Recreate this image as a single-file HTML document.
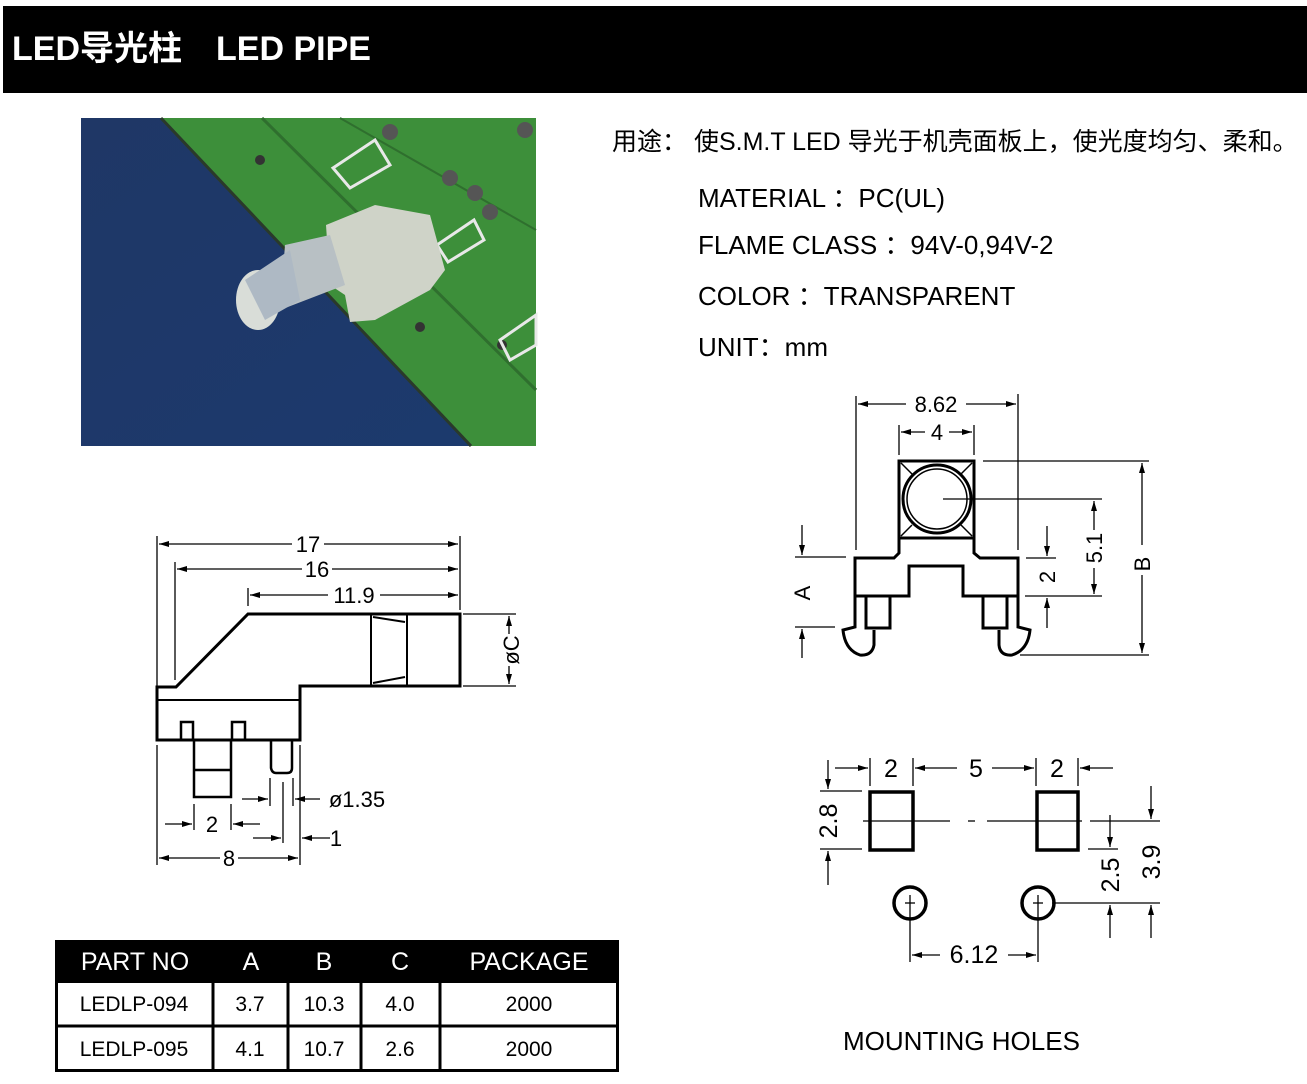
<!DOCTYPE html>
<html><head><meta charset="utf-8"><style>
body{margin:0;background:#fff;width:1307px;height:1084px;overflow:hidden}
svg{display:block}
text{font-family:"Liberation Sans","Noto Sans CJK SC",sans-serif}
</style></head><body>
<svg width="1307" height="1084" viewBox="0 0 1307 1084" xmlns="http://www.w3.org/2000/svg">
<defs>
<marker id="a" viewBox="0 0 10 6" refX="10" refY="3" markerWidth="10" markerHeight="6" orient="auto-start-reverse" markerUnits="userSpaceOnUse"><path d="M0,0L10,3L0,6z" fill="#000"/></marker>
<linearGradient id="bg" x1="0" y1="0" x2="1" y2="1"><stop offset="0" stop-color="#1f3766"/><stop offset="1" stop-color="#1c3a6e"/></linearGradient>
</defs>
<rect x="3" y="6" width="1304" height="87" fill="#000"/>
<text x="12" y="60" fill="#fff" font-size="34" font-weight="bold">LED导光柱　LED PIPE</text>

<!-- photo -->
<rect x="81" y="118" width="455" height="328" fill="url(#bg)"/>
<polygon points="161,118 536,118 536,446 471,446" fill="#3d8f3a"/>
<line x1="161" y1="118" x2="471" y2="446" stroke="#2a3a2a" stroke-width="3"/>
<line x1="262" y1="118" x2="536" y2="390" stroke="#2f6f2e" stroke-width="3"/>
<line x1="340" y1="118" x2="536" y2="230" stroke="#2f6f2e" stroke-width="2"/>
<circle cx="260" cy="160" r="5" fill="#333"/><circle cx="420" cy="327" r="5" fill="#333"/><circle cx="502" cy="345" r="5" fill="#333"/>
<circle cx="390" cy="132" r="8" fill="#555"/><circle cx="450" cy="178" r="8" fill="#555"/><circle cx="475" cy="193" r="8" fill="#555"/><circle cx="490" cy="212" r="8" fill="#555"/><circle cx="525" cy="130" r="8" fill="#555"/>
<path d="M333,168 L375,140 L390,165 L350,188z" fill="none" stroke="#e8e8e8" stroke-width="3"/>
<path d="M437,245 L474,220 L484,240 L448,262z" fill="none" stroke="#e8e8e8" stroke-width="3"/>
<path d="M500,340 L536,315 L536,345 L510,360z" fill="none" stroke="#e8e8e8" stroke-width="3"/>
<path d="M326,225 L375,205 L430,215 L445,270 L430,290 L375,320 L350,322 L345,295 L330,285z" fill="#cfd3c8"/>
<path d="M285,245 L330,235 L345,285 L280,310z" fill="#b8c0c4"/>
<ellipse cx="258" cy="300" rx="22" ry="30" fill="#d9ddd8"/>
<path d="M245,280 L290,250 L300,300 L265,320z" fill="#aeb9c4"/>

<text x="612" y="150" font-size="25">用途：  使S.M.T LED 导光于机壳面板上，使光度均匀、柔和。</text>
<text x="698" y="207" font-size="26">MATERIAL ：PC(UL)</text>
<text x="698" y="254" font-size="26">FLAME CLASS ：94V-0,94V-2</text>
<text x="698" y="305" font-size="26">COLOR ：TRANSPARENT</text>
<text x="698" y="356" font-size="26">UNIT：mm</text>

<g stroke="#000" fill="none" stroke-width="1.3">
<line x1="157" y1="536" x2="157" y2="690"/><line x1="157" y1="745" x2="157" y2="865"/>
<line x1="460" y1="536" x2="460" y2="610"/>
<line x1="175" y1="562" x2="175" y2="680"/>
<line x1="248" y1="588" x2="248" y2="606"/>
<line x1="159" y1="544" x2="292" y2="544" marker-start="url(#a)"/><line x1="324" y1="544" x2="458" y2="544" marker-end="url(#a)"/>
<line x1="177" y1="569" x2="302" y2="569" marker-start="url(#a)"/><line x1="332" y1="569" x2="458" y2="569" marker-end="url(#a)"/>
<line x1="250" y1="595" x2="328" y2="595" marker-start="url(#a)"/><line x1="380" y1="595" x2="458" y2="595" marker-end="url(#a)"/>
<line x1="463" y1="614" x2="516" y2="614"/><line x1="463" y1="686" x2="516" y2="686"/>
<line x1="509" y1="634" x2="509" y2="616" marker-end="url(#a)"/><line x1="509" y1="666" x2="509" y2="684" marker-end="url(#a)"/>
<line x1="194" y1="804" x2="194" y2="830"/><line x1="231" y1="804" x2="231" y2="830"/>
<line x1="165" y1="824" x2="192" y2="824" marker-end="url(#a)"/><line x1="260" y1="824" x2="233" y2="824" marker-end="url(#a)"/>
<line x1="270" y1="778" x2="270" y2="806"/><line x1="293" y1="778" x2="293" y2="806"/><line x1="283" y1="782" x2="283" y2="843"/>
<line x1="300" y1="745" x2="300" y2="865"/>
<line x1="242" y1="799" x2="268" y2="799" marker-end="url(#a)"/><line x1="320" y1="799" x2="295" y2="799" marker-end="url(#a)"/>
<line x1="253" y1="838" x2="281" y2="838" marker-end="url(#a)"/><line x1="330" y1="838" x2="302" y2="838" marker-end="url(#a)"/>
<line x1="159" y1="858" x2="220" y2="858" marker-start="url(#a)"/><line x1="238" y1="858" x2="298" y2="858" marker-end="url(#a)"/>
</g>
<g stroke="#000" fill="none" stroke-width="3">
<path d="M248,614 L460,614 L460,686 L300,686 L300,740 L157,740 L157,687 L176,687 Z"/>
<line x1="157" y1="700" x2="300" y2="700" stroke-width="2"/>
<line x1="371" y1="614" x2="371" y2="686" stroke-width="2"/><line x1="407" y1="614" x2="407" y2="686" stroke-width="2"/>
<path d="M373,617 L405,622 M373,683 L405,677" stroke-width="2"/>
<path d="M181,740 L181,722 L193,722 L193,740 M232,740 L232,722 L245,722 L245,740" stroke-width="2.5"/>
<path d="M194,740 L194,797 L231,797 L231,740 M194,770 L231,770" stroke-width="2.5"/>
<path d="M271,740 L271,768 Q272,773 276,773 L287,773 Q292,773 292,768 L292,740" stroke-width="2.5"/>
</g>
<g font-size="22" text-anchor="middle">
<text x="308" y="552">17</text><text x="317" y="577">16</text><text x="354" y="603">11.9</text>
<text x="212" y="832">2</text><text x="229" y="866">8</text><text x="336" y="846">1</text>
<text x="357" y="807">ø1.35</text>
<text x="0" y="0" transform="translate(519,650) rotate(-90)">øC</text>
</g>

<g stroke="#000" fill="none" stroke-width="1.3">
<line x1="856" y1="396" x2="856" y2="550"/><line x1="1018" y1="394" x2="1018" y2="550"/>
<line x1="858" y1="404" x2="906" y2="404" marker-start="url(#a)"/><line x1="966" y1="404" x2="1016" y2="404" marker-end="url(#a)"/>
<line x1="899" y1="425" x2="899" y2="455"/><line x1="974" y1="425" x2="974" y2="455"/>
<line x1="901" y1="432" x2="925" y2="432" marker-start="url(#a)"/><line x1="949" y1="432" x2="972" y2="432" marker-end="url(#a)"/>
<line x1="983" y1="461" x2="1149" y2="461"/><line x1="1020" y1="655" x2="1149" y2="655"/>
<line x1="1142" y1="463" x2="1142" y2="545" marker-start="url(#a)"/><line x1="1142" y1="575" x2="1142" y2="653" marker-end="url(#a)"/>
<line x1="943" y1="499" x2="1102" y2="499"/><line x1="1025" y1="596" x2="1102" y2="596"/>
<line x1="1094" y1="501" x2="1094" y2="530" marker-start="url(#a)"/><line x1="1094" y1="568" x2="1094" y2="594" marker-end="url(#a)"/>
<line x1="1026" y1="558" x2="1056" y2="558"/>
<line x1="1047" y1="526" x2="1047" y2="556" marker-end="url(#a)"/><line x1="1047" y1="628" x2="1047" y2="598" marker-end="url(#a)"/>
<line x1="795" y1="557" x2="846" y2="557"/><line x1="795" y1="627" x2="835" y2="627"/>
<line x1="802" y1="525" x2="802" y2="555" marker-end="url(#a)"/><line x1="802" y1="658" x2="802" y2="629" marker-end="url(#a)"/>
</g>
<g stroke="#000" fill="none" stroke-width="3">
<rect x="899" y="461" width="75" height="77"/>
<circle cx="937" cy="499" r="34"/><circle cx="937" cy="499" r="30" stroke-width="1.5"/>
<path d="M901,463 L912,474 M972,463 L961,474 M901,536 L912,525 M972,536 L961,525" stroke-width="1.5"/>
<path d="M899,538 L899,553 L894,558 L855,558 L855,596 L909,596 L909,566 L963,566 L963,596 L1018,596 L1018,558 L980,558 L974,553 L974,538"/>
<path d="M855,596 L855,627 L843,630 Q845,650 860,655 Q872,656 874,645 L874,630 M866,596 L866,628 L890,628 L890,596"/>
<path d="M1018,596 L1018,627 L1030,630 Q1028,650 1012,655 Q1000,656 999,645 L999,630 M983,596 L983,628 L1007,628 L1007,596"/>
</g>
<g font-size="22" text-anchor="middle">
<text x="936" y="412">8.62</text><text x="937" y="440">4</text>
<text transform="translate(1150,564) rotate(-90)">B</text>
<text transform="translate(1102,548) rotate(-90)">5.1</text>
<text transform="translate(1055,577) rotate(-90)">2</text>
<text transform="translate(810,593) rotate(-90)">A</text>
</g>

<g stroke="#000" fill="none" stroke-width="1.3">
<line x1="870" y1="758" x2="870" y2="786"/><line x1="913" y1="758" x2="913" y2="786"/>
<line x1="1036" y1="758" x2="1036" y2="786"/><line x1="1078" y1="758" x2="1078" y2="786"/>
<line x1="835" y1="768" x2="868" y2="768" marker-end="url(#a)"/><line x1="957" y1="768" x2="915" y2="768" marker-end="url(#a)"/>
<line x1="992" y1="768" x2="1034" y2="768" marker-end="url(#a)"/><line x1="1113" y1="768" x2="1080" y2="768" marker-end="url(#a)"/>
<line x1="820" y1="791" x2="862" y2="791"/><line x1="820" y1="849" x2="862" y2="849"/>
<line x1="828" y1="760" x2="828" y2="789" marker-end="url(#a)"/><line x1="828" y1="885" x2="828" y2="851" marker-end="url(#a)"/>
<line x1="863" y1="821" x2="950" y2="821"/><line x1="968" y1="821" x2="975" y2="821"/><line x1="987" y1="821" x2="1082" y2="821"/><line x1="1090" y1="821" x2="1160" y2="821"/>
<line x1="1088" y1="849" x2="1118" y2="849"/><line x1="1052" y1="903" x2="1160" y2="903"/>
<line x1="1110" y1="815" x2="1110" y2="847" marker-end="url(#a)"/><line x1="1110" y1="938" x2="1110" y2="905" marker-end="url(#a)"/>
<line x1="1151" y1="786" x2="1151" y2="819" marker-end="url(#a)"/><line x1="1151" y1="938" x2="1151" y2="905" marker-end="url(#a)"/>
<line x1="910" y1="895" x2="910" y2="962"/><line x1="1038" y1="895" x2="1038" y2="962"/>
<line x1="905" y1="903" x2="915" y2="903"/><line x1="1033" y1="903" x2="1043" y2="903"/>
<line x1="912" y1="955" x2="940" y2="955" marker-start="url(#a)"/><line x1="1008" y1="955" x2="1036" y2="955" marker-end="url(#a)"/>
</g>
<g stroke="#000" fill="none" stroke-width="3.5">
<rect x="870" y="792" width="43" height="58"/><rect x="1037" y="792" width="41" height="58"/>
<circle cx="910" cy="903" r="16"/><circle cx="1038" cy="903" r="16"/>
</g>
<g font-size="25" text-anchor="middle">
<text x="891" y="777">2</text><text x="976" y="777">5</text><text x="1057" y="777">2</text>
<text x="974" y="963">6.12</text>
<text transform="translate(837,821) rotate(-90)">2.8</text>
<text transform="translate(1119,875) rotate(-90)">2.5</text>
<text transform="translate(1160,862) rotate(-90)">3.9</text>
</g>
<text x="843" y="1050" font-size="26">MOUNTING  HOLES</text>

<rect x="55" y="940" width="564" height="43" fill="#000"/>
<g stroke="#000" stroke-width="3" fill="none">
<rect x="56.5" y="941.5" width="561" height="129"/>
<line x1="55" y1="1026" x2="619" y2="1026"/>
<line x1="213" y1="983" x2="213" y2="1072"/><line x1="288" y1="983" x2="288" y2="1072"/>
<line x1="361" y1="983" x2="361" y2="1072"/><line x1="440" y1="983" x2="440" y2="1072"/>
</g>
<g font-size="25" fill="#fff" text-anchor="middle">
<text x="135" y="970">PART NO</text><text x="251" y="970">A</text><text x="324" y="970">B</text><text x="400" y="970">C</text><text x="529" y="970">PACKAGE</text>
</g>
<g font-size="21" text-anchor="middle">
<text x="134" y="1011">LEDLP-094</text><text x="250" y="1011">3.7</text><text x="324" y="1011">10.3</text><text x="400" y="1011">4.0</text><text x="529" y="1011">2000</text>
<text x="134" y="1056">LEDLP-095</text><text x="250" y="1056">4.1</text><text x="324" y="1056">10.7</text><text x="400" y="1056">2.6</text><text x="529" y="1056">2000</text>
</g>
</svg>
</body></html>
